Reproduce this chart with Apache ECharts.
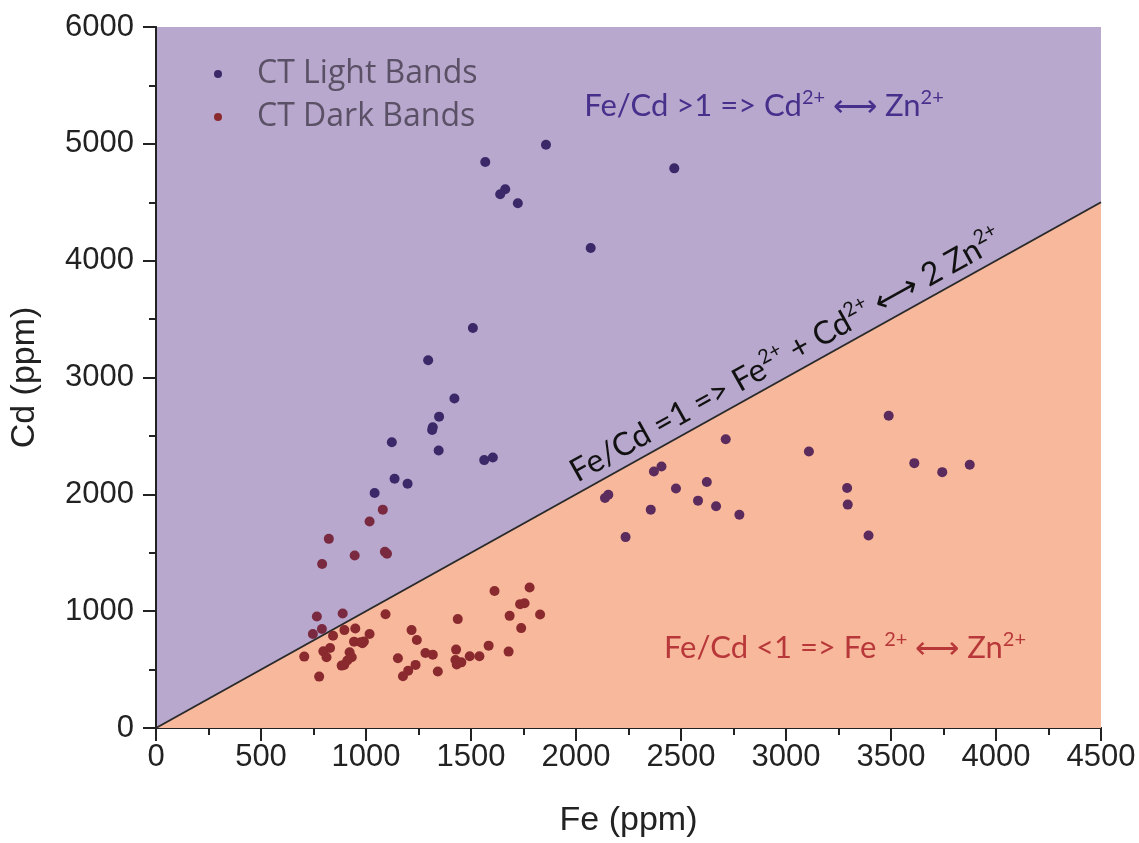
<!DOCTYPE html>
<html><head><meta charset="utf-8">
<script src="https://cdn.jsdelivr.net/npm/echarts@6/dist/echarts.min.js"></script>
<style>html,body{margin:0;padding:0;background:#fff}#c{width:1139px;height:843px}</style>
</head><body><div id="c"></div>
<script>
// ---- data ----
const lightFe = [1568,1857,1663,1639,1723,2070,2468,1509,1296,1421,1348,1318,1315,1123,1346,1563,1604,1136,1198,1041,
  2138,2154,2236,2356,2371,2407,2476,2581,2623,2667,2713,2778,3109,3291,3294,3393,3489,3611,3744,3875];
const lightCd = [4844,4992,4611,4568,4492,4108,4790,3424,3148,2821,2665,2574,2551,2446,2375,2293,2315,2133,2091,2011,
  1969,1997,1634,1869,2196,2238,2050,1946,2105,1898,2472,1826,2367,2054,1912,1648,2673,2267,2190,2253];
const darkFe = [1080,1017,823,946,1090,1100,791,766,889,1093,747,790,843,897,949,1017,943,975,990,983,829,797,812,706,922,932,911,896,884,777,
  1217,1242,1152,1236,1201,1176,1283,1318,1342,1437,1429,1426,1432,1454,1494,1540,1584,1612,1679,1684,1739,1734,1755,1779,1829];
const darkCd = [1869,1767,1619,1477,1508,1491,1404,955,980,974,804,847,790,838,852,804,739,735,740,725,685,656,605,611,648,605,577,540,534,440,
  838,753,597,540,491,443,642,628,483,932,671,582,543,562,614,614,705,1173,654,960,855,1060,1068,1202,972];
const ratioLine = [[0,0],[4500,4500]];
const xTicks = {min:0, max:4500, interval:500};
const yTicks = {min:0, max:6000, interval:1000};
const seriesNames = ['CT Light Bands','CT Dark Bands'];

const pair = (a,b) => a.map((v,i)=>[v,b[i]]);
const C = {purpleBg:'#b8a8cd', orangeBg:'#f8b89c', light:'#3b2868', lightOnOrange:'#5a2b5c', dark:'#8a2a2e', darkOnPurple:'#7a2a40', axis:'#222'};

const chart = echarts.init(document.getElementById('c'));
const labelFont = {fontFamily:'Liberation Sans, Arial, sans-serif', fontSize:31, color:'#222', formatter:(v)=>String(v)};
const nameFont = {fontFamily:'Liberation Sans, Arial, sans-serif', fontSize:34, color:'#222'};
const axLine = {show:true, lineStyle:{color:C.axis, width:2}};
function xAx(pos){
  const bottom = pos==='bottom';
  return {type:'value', position:pos, min:xTicks.min, max:xTicks.max, interval:xTicks.interval,
    axisLine:axLine, splitLine:{show:false},
    axisTick:{show:true, inside:!bottom, length:bottom?11:13, lineStyle:{color:C.axis,width:2}},
    minorTick:{show:true, splitNumber:2, length:7, lineStyle:{color:C.axis,width:2}},
    axisLabel:Object.assign({show:bottom, margin:14}, labelFont),
    name: bottom?'Fe (ppm)':'', nameLocation:'middle', nameGap:76, nameTextStyle:nameFont};
}
function yAx(pos){
  const left = pos==='left';
  return {type:'value', position:pos, min:yTicks.min, max:yTicks.max, interval:yTicks.interval,
    axisLine:axLine, splitLine:{show:false},
    axisTick:{show:true, inside:!left, length:left?9:13, lineStyle:{color:C.axis,width:2}},
    minorTick:{show:true, splitNumber:2, length:left?6:7, lineStyle:{color:C.axis,width:2}},
    axisLabel:Object.assign({show:left, margin:22}, labelFont),
    name: left?'Cd (ppm)':'', nameLocation:'middle', nameGap:114, nameRotate:90, nameTextStyle:nameFont};
}
const annFont = 'Lato, sans-serif';
function richSup(color, size){
  return {a:{fontSize:size, fill:color, fontFamily:annFont, lineHeight:size+6},
          s:{fontSize:Math.round(size*0.64), fill:color, fontFamily:annFont, verticalAlign:'top', lineHeight:size+6}};
}
chart.setOption({
  animation:false,
  backgroundColor:'#fff',
  grid:{left:153, right:38, top:27, bottom:112, show:true, backgroundColor:C.purpleBg, borderWidth:0},
  xAxis:[xAx('bottom'), xAx('top')],
  yAxis:[yAx('left'), yAx('right')],
  legend:{orient:'vertical', left:209, top:53, itemWidth:8, itemHeight:8, itemGap:11, icon:'circle',
    data:seriesNames,
    textStyle:{fontFamily:'Open Sans, sans-serif', fontSize:32, color:'#5a5166', lineHeight:32, padding:[0,0,0,30]}},
  series:[
    {type:'line', data:ratioLine, xAxisIndex:0, yAxisIndex:0, symbol:'none', silent:true, z:1,
      lineStyle:{color:'#2a2a2a', width:2}, areaStyle:{color:C.orangeBg, opacity:1}},
    {name:seriesNames[0], type:'scatter', data:pair(lightFe,lightCd), symbolSize:10, z:3, color:C.light,
      itemStyle:{opacity:1, color:(p)=> p.value[1] < p.value[0] ? C.lightOnOrange : C.light}},
    {name:seriesNames[1], type:'scatter', data:pair(darkFe,darkCd), symbolSize:10, z:3, color:C.dark,
      itemStyle:{opacity:1, color:(p)=> p.value[1] > p.value[0] ? C.darkOnPurple : C.dark}}
  ],
  graphic:[
    {type:'text', x:764, y:106, z:10, style:{text:'{a|Fe/Cd >1 => Cd}{s|2+}{a| ⟷ Zn}{s|2+}', align:'center', verticalAlign:'middle',
      rich:richSup('#47308c',31)}},
    {type:'text', x:845, y:648, z:10, style:{text:'{a|Fe/Cd <1 => Fe }{s|2+}{a| ⟷ Zn}{s|2+}', align:'center', verticalAlign:'middle',
      rich:richSup('#b8383a',31)}},
    {type:'text', x:786, y:355, rotation:29.1*Math.PI/180, z:10, style:{text:'{a|Fe/Cd =1 => Fe}{s|2+}{a| + Cd}{s|2+}{a| ⟷ 2 Zn}{s|2+}', align:'center', verticalAlign:'middle',
      rich:richSup('#111',32)}}
  ]
});
</script></body></html>
